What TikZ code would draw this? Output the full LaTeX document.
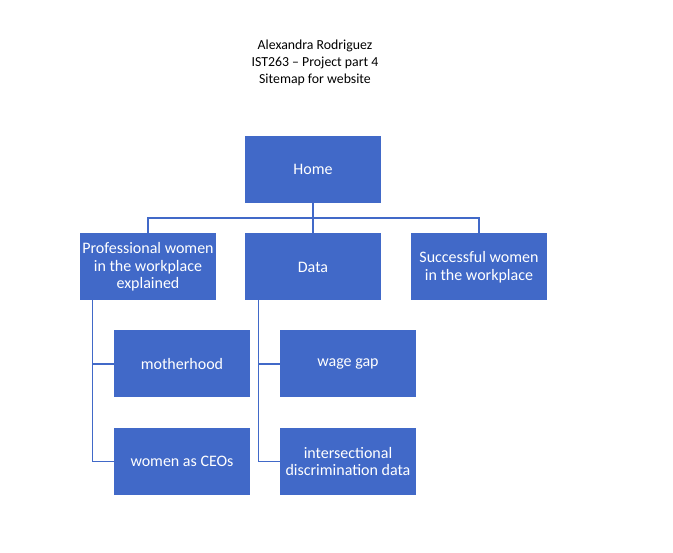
\documentclass[tikz,border=0pt]{standalone}
\usepackage{fontspec}
\setmainfont{Carlito}
\usetikzlibrary{positioning}

\definecolor{mapblue}{HTML}{4169C8}

\tikzset{
    page/.style={x=1pt, y=-1pt},
    mapbox/.style={fill=mapblue, draw=none, minimum width=136pt, minimum height=67pt,
        inner sep=1pt, align=center, text=white, font=\fontsize{16}{17.5}\selectfont},
    mapline/.style={draw=mapblue, line width=1.1pt}
}

\begin{document}
\begin{tikzpicture}[page]
            \useasboundingbox (0,0) rectangle (673,553);

            % First, the title lines
            \node (title) [align=center, font=\fontsize{13.8}{17}\selectfont] at (315, 63)
                {Alexandra Rodriguez\\IST263 -- Project part 4\\Sitemap for website};

            % Then locate each of the pages and name them
            \node (home) [mapbox] at (313, 169.5) {Home};

            \node (prof) [mapbox] at (148, 267) {Professional women\\in the workplace\\explained};
            \node (data) [mapbox] at (313, 267) {Data};
            \node (succ) [mapbox] at (479, 267) {Successful women\\in the workplace};

            \node (mother) [mapbox] at (182, 364) {motherhood};
            \node (ceo) [mapbox] at (182, 461.5) {women as CEOs};
            \node (wage) [mapbox] at (348, 364) {wage gap};
            \node (inter) [mapbox] at (348, 461.5) {intersectional\\discrimination data};

            % Home to the top pages
            \coordinate (hbar) at (313, 218);
            \draw [mapline] (home) -- (hbar);
            \draw [mapline] (hbar) -| (prof);
            \draw [mapline] (hbar) -- (data);
            \draw [mapline] (hbar) -| (succ);

            % Subpages of professional women
            \coordinate (pline) at (92.5, 300.5);
            \draw [mapline] (pline) |- (mother);
            \draw [mapline] (pline) |- (ceo);

            % Subpages of data
            \coordinate (dline) at (258.5, 300.5);
            \draw [mapline] (dline) |- (wage);
            \draw [mapline] (dline) |- (inter);
\end{tikzpicture}
\end{document}
